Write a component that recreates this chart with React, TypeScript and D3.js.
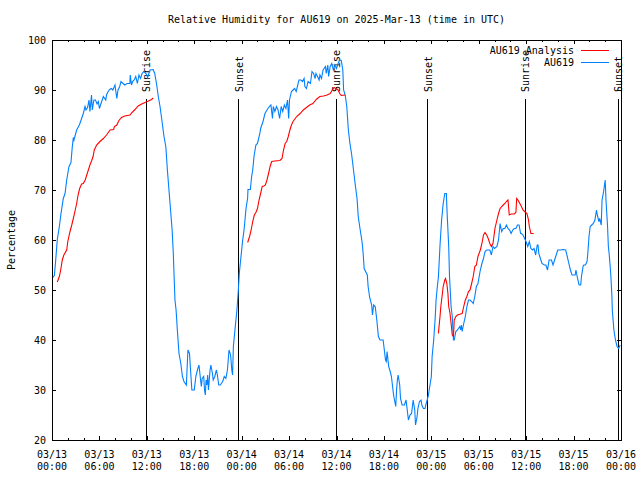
import React from "react";
import * as d3 from "d3";

const title = "Relative Humidity for AU619 on 2025-Mar-13 (time in UTC)";
const yLabel = "Percentage";
const seriesNames = ["AU619 Analysis", "AU619"];
const seriesColors = ["#ff0000", "#0080ff"];

// x values are hours since 03/13 00:00 UTC
const xTickLabels = [
  ["03/13", "00:00"], ["03/13", "06:00"], ["03/13", "12:00"], ["03/13", "18:00"],
  ["03/14", "00:00"], ["03/14", "06:00"], ["03/14", "12:00"], ["03/14", "18:00"],
  ["03/15", "00:00"], ["03/15", "06:00"], ["03/15", "12:00"], ["03/15", "18:00"],
  ["03/16", "00:00"],
];
const yTicks = [20, 30, 40, 50, 60, 70, 80, 90, 100];
const sunriseHours = [11.87, 35.9, 59.8];
const sunsetHours = [23.58, 47.5, 71.6];

const obs: [number, number][] = [
  [0.1, 52.5], [0.3, 52.9], [0.47, 56], [0.67, 60.1], [0.93, 62.7], [1.14, 65.3], [1.43, 68.3], [1.65, 69.3],
  [1.86, 72], [2.15, 74.7], [2.4, 75.5], [2.57, 78.7], [2.7, 80.5], [2.78, 80], [3.12, 82], [3.46, 83],
  [3.75, 84.3], [3.96, 85.3], [4.18, 86.7], [4.3, 86], [4.5, 86.5], [4.68, 88], [4.8, 85.7], [5.0, 89],
  [5.1, 86], [5.3, 88], [5.5, 88], [5.7, 87.2], [5.86, 87.7], [6.0, 86.3], [6.2, 87.3], [6.5, 88.7],
  [6.8, 88], [6.9, 89], [7.1, 89.7], [7.3, 90.1], [7.5, 90.3], [7.7, 90], [7.97, 91], [8.2, 88.3],
  [8.35, 90], [8.55, 90.6], [8.73, 91.7], [9.0, 91.3], [9.2, 91], [9.5, 91.3], [9.85, 91.3], [9.9, 93],
  [10.06, 91], [10.2, 91.7], [10.4, 92], [10.6, 92.7], [10.8, 91.3], [11.0, 93], [11.2, 92.3], [11.4, 93.3],
  [11.6, 93.7], [11.9, 93.3], [12.1, 92.5], [12.4, 94], [12.8, 94.1], [13.0, 93.3], [13.25, 91], [13.45, 88.7],
  [13.67, 86.7], [13.9, 84], [14.17, 80.7], [14.4, 78.7], [14.6, 74], [14.8, 70], [15.0, 66], [15.2, 62],
  [15.35, 57.3], [15.45, 52.7], [15.56, 48], [15.7, 46], [15.86, 42], [16.07, 37.3], [16.3, 35.3], [16.5, 32.7],
  [16.7, 31.7], [17.0, 31], [17.2, 38], [17.4, 37.3], [17.5, 34.7], [17.7, 30], [18.0, 30], [18.2, 32.7],
  [18.4, 34], [18.6, 35], [18.8, 32], [18.9, 30.7], [19.0, 32.3], [19.2, 32.7], [19.3, 30], [19.4, 29],
  [19.5, 32], [19.6, 31], [19.7, 33], [19.8, 30], [20.0, 34], [20.1, 35], [20.3, 33.3], [20.4, 32],
  [20.6, 32.7], [20.8, 34], [20.9, 33.3], [21.1, 31], [21.3, 31], [21.6, 31.7], [21.8, 32.7], [22.0, 32.3],
  [22.2, 34], [22.4, 38], [22.6, 37], [22.75, 34], [22.85, 33], [22.95, 38.7], [23.15, 42], [23.4, 46],
  [23.58, 50], [23.7, 53.3], [23.87, 56], [24.0, 58], [24.13, 60], [24.3, 62], [24.42, 64], [24.55, 66.3],
  [24.75, 68.3], [24.8, 70.1], [25.1, 70.1], [25.26, 72.7], [25.4, 74], [25.56, 76.7], [25.8, 79], [26.0, 79.3],
  [26.3, 81.3], [26.4, 82.3], [26.7, 83.7], [26.95, 85.3], [27.2, 86], [27.5, 86.7], [27.7, 87], [27.9, 84.3],
  [28.0, 86.7], [28.2, 85.7], [28.4, 86.7], [28.6, 86], [28.8, 84.3], [29.0, 86.7], [29.2, 85.7], [29.4, 87],
  [29.6, 86.3], [29.8, 88], [29.95, 84.3], [30.05, 88], [30.3, 89.7], [30.5, 90], [30.7, 90.3], [30.9, 89.7],
  [31.25, 92], [31.5, 92], [31.7, 91.7], [31.9, 92.3], [32.0, 90.7], [32.2, 90.3], [32.4, 91.7], [32.7, 91.3],
  [32.9, 93.7], [33.1, 93.3], [33.3, 92.3], [33.4, 93.3], [33.6, 92.7], [33.8, 92], [33.9, 93], [34.1, 92.3],
  [34.3, 94], [34.6, 94.7], [34.7, 93.3], [34.9, 95], [35.0, 92.7], [35.2, 94.7], [35.4, 95.3], [35.6, 94],
  [35.8, 95], [36.0, 94.3], [36.2, 95.3], [36.4, 96], [36.6, 95.9], [36.8, 94], [36.9, 90], [37.1, 89],
  [37.3, 86.7], [37.5, 82], [37.7, 79.3], [37.9, 77.3], [38.1, 74.7], [38.25, 72.7], [38.4, 70.7], [38.6, 68.3],
  [38.75, 64.7], [39.0, 62], [39.2, 60], [39.3, 58.7], [39.4, 56.7], [39.5, 54.3], [39.9, 53], [40.0, 50.7],
  [40.2, 48.5], [40.45, 47], [40.55, 45], [40.7, 47], [40.9, 46.7], [41.1, 44], [41.3, 40.7], [41.5, 40],
  [41.9, 40], [42.0, 38.7], [42.2, 36], [42.3, 35.7], [42.4, 37.7], [42.6, 34.7], [42.8, 33.7], [42.95, 32.7],
  [43.2, 29.3], [43.3, 28.3], [43.5, 26.7], [43.6, 30], [43.7, 32], [43.8, 33], [44.0, 31], [44.1, 28.3],
  [44.3, 27], [44.6, 27], [44.8, 28], [44.9, 26.7], [45.1, 24], [45.3, 25], [45.5, 25.3], [45.7, 28],
  [45.9, 26], [46.0, 23], [46.2, 24.7], [46.3, 26.3], [46.5, 27.7], [46.7, 28], [46.8, 27], [47.0, 26.3],
  [47.2, 26.3], [47.3, 27], [47.6, 28.7], [47.8, 30.7], [48.0, 32.7], [48.1, 36.7], [48.3, 40], [48.5, 44.7],
  [48.6, 48], [48.75, 50.5], [48.9, 52.7], [49.1, 59], [49.3, 64], [49.5, 67.3], [49.7, 69.3], [49.9, 69.3],
  [50.0, 65.3], [50.2, 58.7], [50.3, 52.7], [50.5, 46.7], [50.65, 44.7], [50.8, 40], [50.9, 40], [51.1, 41.7],
  [51.3, 42], [51.6, 42.7], [51.7, 42], [51.8, 43], [51.9, 41.7], [52.1, 43.3], [52.3, 44.7], [52.5, 46.7],
  [52.7, 48], [52.9, 48], [53.1, 47.7], [53.3, 47.3], [53.5, 48.7], [53.7, 50.7], [53.9, 51.3], [54.2, 54],
  [54.4, 55.3], [54.6, 56.3], [54.8, 57.7], [55.0, 58], [55.2, 58], [55.4, 58], [55.6, 57], [55.8, 58.7],
  [56.0, 58.3], [56.3, 58.7], [56.5, 60], [56.7, 63.3], [56.9, 61.7], [57.1, 62.3], [57.3, 62.3], [57.5, 63],
  [57.7, 62.3], [57.9, 62], [58.1, 61.3], [58.3, 62], [58.5, 62.3], [58.7, 62.3], [58.9, 63], [59.1, 63],
  [59.3, 61.3], [59.4, 61.3], [59.6, 61], [59.98, 59.7], [60.2, 58.7], [60.4, 59.7], [60.6, 58.3], [60.8, 58],
  [61.0, 58.3], [61.2, 57], [61.4, 59], [61.5, 59], [61.6, 57.3], [61.8, 56.3], [62.0, 55.3], [62.3, 55],
  [62.5, 55], [62.7, 54], [62.9, 56], [63.2, 56], [63.4, 55], [63.6, 56], [63.8, 57], [64.0, 58],
  [64.3, 58], [64.7, 58.1], [65.0, 58], [65.2, 56.7], [65.4, 55.3], [65.6, 54], [65.8, 53], [66.0, 53],
  [66.2, 53], [66.3, 54], [66.5, 52.3], [66.7, 51], [66.9, 51], [67.0, 52.7], [67.2, 54.7], [67.3, 55],
  [67.5, 55], [67.7, 55.7], [67.8, 57.3], [67.95, 60.7], [68.1, 62.7], [68.3, 63], [68.5, 63.3], [68.7, 64],
  [68.9, 66], [69.0, 65], [69.2, 63.7], [69.3, 64.3], [69.5, 63], [69.6, 68], [69.8, 69.7], [70.0, 72],
  [70.1, 68], [70.3, 62.7], [70.4, 58.7], [70.5, 57.3], [70.7, 53.3], [70.85, 48.7], [70.9, 46], [71.1, 42],
  [71.3, 40], [71.5, 38.7], [71.7, 38.3], [71.9, 39],
];

const analysisDay1: [number, number][] = [
  [0.67, 51.6], [0.93, 52.7], [1.1, 54], [1.3, 56], [1.5, 57], [1.86, 58], [2.0, 59.7], [2.28, 61.7],
  [2.5, 63], [2.7, 64.3], [2.9, 65.7], [3.12, 67.3], [3.3, 69], [3.5, 70.3], [3.75, 71.2], [3.96, 71.3],
  [4.2, 72], [4.4, 73], [4.6, 74], [4.8, 75], [5.0, 75.8], [5.2, 76.7], [5.35, 78], [5.65, 79],
  [6.07, 79.7], [6.5, 80.3], [6.9, 81], [7.35, 82], [7.8, 82.1], [7.9, 82.7], [8.2, 83], [8.47, 83.9],
  [8.8, 84.5], [9.2, 84.8], [9.87, 85], [10.0, 85.3], [10.5, 86.1], [10.9, 86.8], [11.35, 87.2], [11.77, 87.5],
  [12.2, 87.8], [12.6, 88.1], [12.8, 88.4],
];
const analysisDay2: [number, number][] = [
  [24.76, 59.5], [25.0, 60.7], [25.2, 62], [25.4, 63.7], [25.6, 65], [25.8, 65.5], [26.0, 66.3], [26.2, 68],
  [26.4, 69.3], [26.6, 70.7], [26.8, 70.8], [27.0, 71], [27.2, 72], [27.4, 73.3], [27.6, 74.7], [27.8, 75.7],
  [28.2, 75.8], [28.85, 75.9], [29.1, 76.3], [29.3, 78], [29.5, 79.3], [29.7, 79.7], [29.9, 80.7], [30.1, 82],
  [30.3, 83], [30.5, 83.7], [30.96, 84.7], [31.4, 85.3], [31.8, 86], [32.2, 86.5], [32.6, 87], [33.0, 87.3],
  [33.5, 88.2], [33.9, 88.7], [34.35, 88.8], [34.8, 89], [35.2, 89.3], [35.5, 90.1], [35.7, 90.5], [35.9, 90.3],
  [36.2, 90], [36.4, 89.3], [36.6, 88.9], [37.1, 89],
];
const analysisDay3: [number, number][] = [
  [48.9, 41.3], [48.95, 42.3], [49.1, 44.7], [49.2, 46.7], [49.4, 49.3], [49.5, 50.7], [49.7, 52], [49.8, 52.3],
  [49.96, 51.3], [50.1, 49.3], [50.2, 46.7], [50.35, 45.5], [50.5, 43.3], [50.65, 41], [50.8, 40.7], [50.9, 44],
  [51.1, 44.7], [51.3, 45], [51.7, 45.2], [51.9, 45.3], [52.1, 46.7], [52.3, 48], [52.5, 48.7], [52.7, 49.7],
  [52.9, 50], [53.1, 51.3], [53.3, 52.7], [53.5, 54.7], [53.7, 55], [53.9, 56.7], [54.2, 58], [54.4, 59.3],
  [54.6, 61], [54.8, 61.5], [55.0, 61], [55.2, 60.3], [55.4, 59.3], [55.6, 58.7], [55.8, 59.3], [56.05, 62.3],
  [56.3, 64], [56.5, 65.3], [56.7, 66.3], [56.9, 66.7], [57.1, 67], [57.3, 67.3], [57.5, 67.7], [57.7, 68],
  [57.86, 65], [58.1, 65.2], [58.5, 65.2], [58.7, 65.5], [58.8, 68.3], [58.96, 68], [59.2, 67.3], [59.4, 66.7],
  [59.6, 66], [59.8, 65.7], [60.1, 65.3], [60.3, 64], [60.4, 62.7], [60.6, 61.3], [60.95, 61.3],
];

const FONT = "'DejaVu Sans Mono', monospace";

export default function App() {
  const left = 52, right = 621, top = 40, bottom = 440;
  const x = d3.scaleLinear().domain([0, 72]).range([left, right]);
  const y = d3.scaleLinear().domain([20, 100]).range([bottom, top]);
  const line = d3.line<[number, number]>().x((d) => x(d[0])).y((d) => y(d[1]));
  const px = (v: number) => Math.round(v) + 0.5;
  const majorX = d3.range(0, 73, 6);
  const minorX = d3.range(0, 73, 2).filter((h) => h % 6 !== 0);
  const sunLineTop = y(88.2);
  const events = [
    ...sunriseHours.map((h) => ({ h, label: "Sunrise" })),
    ...sunsetHours.map((h) => ({ h, label: "Sunset" })),
  ];
  return (
    <svg width={640} height={480} style={{ position: "absolute", left: 0, top: 0, background: "#fff" }}
      fontFamily={FONT} fontSize={10}>
      <rect x={0} y={0} width={640} height={480} fill="#fff" />
      <text x={(left + right) / 2} y={19.5} textAnchor="middle" dominantBaseline="central">{title}</text>
      <text transform={`translate(11,${(top + bottom) / 2}) rotate(-90)`} textAnchor="middle" dominantBaseline="central">{yLabel}</text>
      <g shapeRendering="crispEdges">
        {yTicks.map((v) => (
          <g key={"y" + v}>
            <line x1={left} x2={left + 4} y1={px(y(v))} y2={px(y(v))} stroke="#000" />
            <line x1={right - 4} x2={right} y1={px(y(v))} y2={px(y(v))} stroke="#000" />
          </g>
        ))}
        {majorX.map((h) => (
          <g key={"x" + h}>
            <line x1={px(x(h))} x2={px(x(h))} y1={bottom} y2={bottom - 4} stroke="#000" />
            <line x1={px(x(h))} x2={px(x(h))} y1={top} y2={top + 4} stroke="#000" />
          </g>
        ))}
        {minorX.map((h) => (
          <g key={"m" + h}>
            <line x1={px(x(h))} x2={px(x(h))} y1={bottom} y2={bottom - 2} stroke="#000" />
            <line x1={px(x(h))} x2={px(x(h))} y1={top} y2={top + 2} stroke="#000" />
          </g>
        ))}
        {events.map((e, i) => (
          <line key={"el" + i} x1={px(x(e.h))} x2={px(x(e.h))} y1={sunLineTop} y2={bottom} stroke="#000" />
        ))}
      </g>
      {yTicks.map((v) => (
        <text key={"yl" + v} x={46} y={y(v)} textAnchor="end" dominantBaseline="central">{v}</text>
      ))}
      {majorX.map((h, i) => (
        <g key={"xl" + h}>
          <text x={x(h)} y={454} textAnchor="middle" dominantBaseline="central">{xTickLabels[i][0]}</text>
          <text x={x(h)} y={466.5} textAnchor="middle" dominantBaseline="central">{xTickLabels[i][1]}</text>
        </g>
      ))}
      {events.map((e, i) => (
        <text key={"et" + i} transform={`translate(${x(e.h) + 1},${sunLineTop - 7}) rotate(-90)`} textAnchor="start"
          dominantBaseline="central">{e.label}</text>
      ))}
      <path d={line(obs) || ""} fill="none" stroke={seriesColors[1]} strokeWidth={1.1} />
      {[analysisDay1, analysisDay2, analysisDay3].map((s, i) => (
        <path key={"a" + i} d={line(s) || ""} fill="none" stroke={seriesColors[0]} strokeWidth={1.1} />
      ))}
      <rect x={left + 0.5} y={top + 0.5} width={right - left} height={bottom - top} fill="none" stroke="#000"
        shapeRendering="crispEdges" />
      {seriesNames.map((n, i) => (
        <g key={"l" + i}>
          <text x={574} y={50 + i * 12.3} textAnchor="end" dominantBaseline="central">{n}</text>
          <line x1={581} x2={609} y1={px(50 + i * 12.3)} y2={px(50 + i * 12.3)} stroke={seriesColors[i]}
            shapeRendering="crispEdges" />
        </g>
      ))}
    </svg>
  );
}
